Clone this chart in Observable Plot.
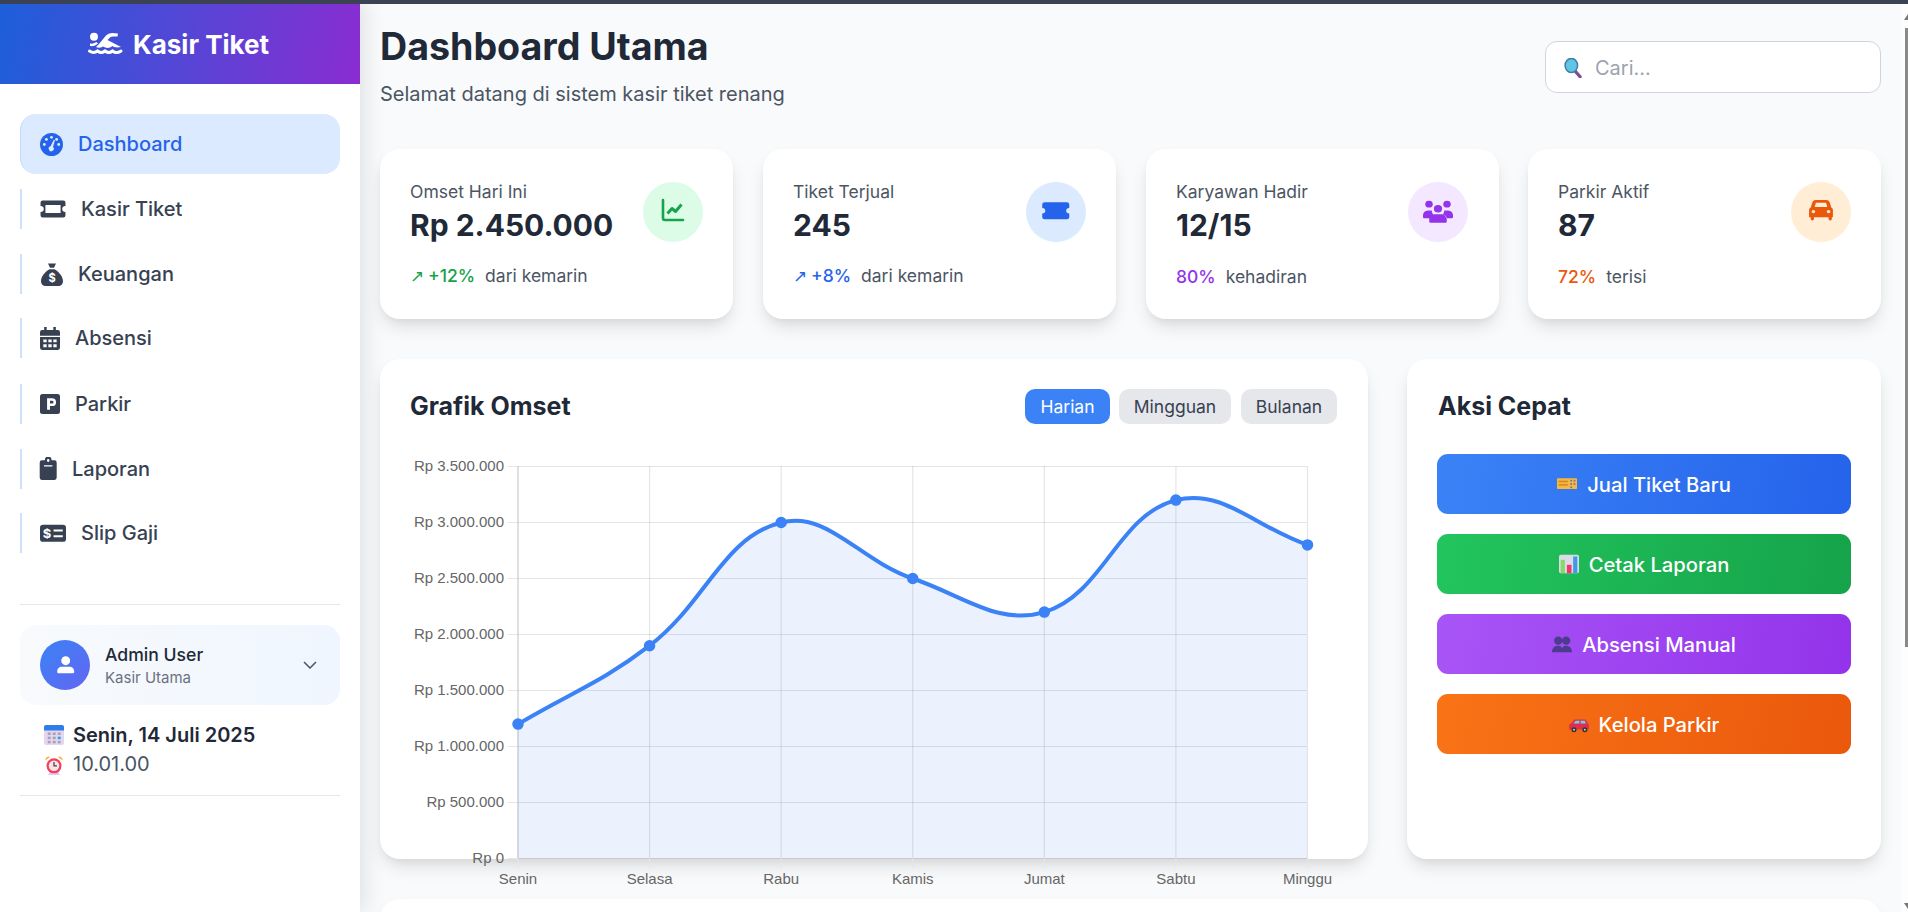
<!DOCTYPE html>
<html lang="id">
<head>
<meta charset="utf-8">
<title>Dashboard Utama</title>
<script src="https://cdn.jsdelivr.net/npm/d3@7"></script>
<script src="https://cdn.jsdelivr.net/npm/@observablehq/plot@0.6"></script>
<style>
html,body{margin:0;padding:0;width:1908px;height:912px;overflow:hidden;background:#f9fafb;font-family:Inter,"Noto Sans",sans-serif;color:#1f2937;-webkit-font-smoothing:antialiased}
.a{position:absolute}
.t{position:absolute;white-space:nowrap;line-height:1.2;transform:translateY(-50%)}
.c{position:absolute;background:#fff;border-radius:20px;box-shadow:0 10px 18px -3px rgba(0,0,0,.12),0 4px 7px -2px rgba(0,0,0,.05)}
svg.i{position:absolute;display:block}
.b{position:absolute;display:flex;align-items:center;justify-content:center}
</style>
</head>
<body>
<div id="page" class="a" style="left:0;top:0;width:1908px;height:912px;overflow:hidden"></div>
<script>
// ---------- chart data ----------
const days = ["Senin", "Selasa", "Rabu", "Kamis", "Jumat", "Sabtu", "Minggu"];
const omset = [1200000, 1900000, 3000000, 2500000, 2200000, 3200000, 2800000];
const yTicks = [0, 500000, 1000000, 1500000, 2000000, 2500000, 3000000, 3500000];

// ---------- page text ----------
const navLabels = ["Dashboard", "Kasir Tiket", "Keuangan", "Absensi", "Parkir", "Laporan", "Slip Gaji"];
const navTextX = [78, 81, 78, 75, 75, 72, 81];
const navY = [144, 208.5, 274, 338, 404, 468.5, 533];
const navIcon = ["gauge", "ticket", "bag", "cal", "park", "clip", "slip"];
const navIconX = [40, 40, 40, 40, 40, 38.3, 40];
const navIconW = [23, 26, 24, 20, 20, 20.4, 26];
const navIconH = [23, 24, 25, 23, 20, 23, 22.7];
const statLabels = ["Omset Hari Ini", "Tiket Terjual", "Karyawan Hadir", "Parkir Aktif"];
const statValues = ["Rp 2.450.000", "245", "12/15", "87"];
const statHighlight = ["+12%", "+8%", "80%", "72%"];
const statNote = ["dari kemarin", "dari kemarin", "kehadiran", "terisi"];
const statArrow = [true, true, false, false];
const statColor = ["#16a34a", "#2563eb", "#9333ea", "#ea580c"];
const statTint = ["#dcfce7", "#dbeafe", "#f3e8ff", "#ffedd5"];
const statIcon = ["chart", "ticket2", "users", "car"];
const statLeft = [380, 763, 1146, 1528];
const statCx = [673, 1056, 1438, 1821];
const statIconW = [24, 29.5, 30, 26];
const statIconH = [24, 25.5, 27, 23];
const statIconY = [210, 210.5, 211, 209.5];
const periodLabels = ["Harian", "Mingguan", "Bulanan"];
const actionLabels = ["Jual Tiket Baru", "Cetak Laporan", "Absensi Manual", "Kelola Parkir"];
const actionIcon = ["eTicket", "eChart", "eBusts", "eCar"];
const actionGrad = [["#3b82f6", "#2563eb"], ["#22c55e", "#16a34a"], ["#a855f7", "#9333ea"], ["#f97316", "#ea580c"]];

// ---------- icons ----------
const icons = {
  gauge: `<circle cx="12" cy="12" r="12" fill="currentColor"/><g fill="#dbeafe"><circle cx="12" cy="4.5" r="1.5"/><circle cx="6.7" cy="6.7" r="1.5"/><circle cx="4.5" cy="12" r="1.5"/><circle cx="19.5" cy="12" r="1.5"/><circle cx="17.3" cy="6.7" r="1.5"/></g><path d="M15.6 7.2 13.6 14.6a2.6 2.6 0 1 1-2.6-.7l3.4-6.9z" fill="#dbeafe"/>`,
  ticket: `<path fill-rule="evenodd" d="M2.5 3.5h19a2 2 0 0 1 2 2V9a3 3 0 0 0 0 6v3.5a2 2 0 0 1-2 2h-19a2 2 0 0 1-2-2V15a3 3 0 0 0 0-6V5.500a2 2 0 0 1 2-2zM5 8v8h14V8z" fill="currentColor"/>`,
  bag: `<path d="M8 1.500h8l-2 4h-4zM9.500 7h5C19 9.500 23 14 23 18.500 23 21.500 21 23 18.500 23h-13C3 23 1 21.500 1 18.500 1 14 5 9.500 9.500 7z" fill="currentColor"/><text x="12" y="19.500" text-anchor="middle" font-size="11" font-weight="700" fill="#fff" font-family="Inter">$</text>`,
  cal: `<path fill-rule="evenodd" d="M5 0h3v3h8V0h3v3h2.500A2.500 2.500 0 0 1 24 5.500V9H0V5.500A2.500 2.500 0 0 1 2.500 3H5zM0 10.500h24V21.500a2.500 2.500 0 0 1-2.500 2.500h-19A2.500 2.500 0 0 1 0 21.500zM4 13v3h4v-3zm6 0v3h4v-3zm6 0v3h4v-3zM4 18v3h4v-3zm6 0v3h4v-3zm6 0v3h4v-3z" fill="currentColor"/>`,
  park: `<path fill-rule="evenodd" d="M3 0h18a3 3 0 0 1 3 3v18a3 3 0 0 1-3 3H3a3 3 0 0 1-3-3V3a3 3 0 0 1 3-3zm5.500 5v14h3.500v-4.500h2.500a4.750 4.750 0 0 0 0-9.500zm3.500 3h2.500a1.750 1.750 0 0 1 0 3.500H12z" fill="currentColor"/>`,
  clip: `<path fill-rule="evenodd" d="M8 3.500a4 4 0 0 1 8 0h3.500A2.500 2.500 0 0 1 22 6v15.500a2.500 2.500 0 0 1-2.500 2.500h-15A2.500 2.500 0 0 1 2 21.500V6a2.500 2.500 0 0 1 2.500-2.500zM12 2.200a1.500 1.500 0 1 0 0 3 1.500 1.500 0 0 0 0-3zM7 8.500V10h10V8.500z" fill="currentColor"/>`,
  slip: `<path fill-rule="evenodd" d="M3 3h18a3 3 0 0 1 3 3v12a3 3 0 0 1-3 3H3a3 3 0 0 1-3-3V6a3 3 0 0 1 3-3zm9.500 5v2H21V8zm0 6v2H21v-2z" fill="currentColor"/><text x="6.500" y="16.500" text-anchor="middle" font-size="12" font-weight="700" fill="#fff" font-family="Inter">$</text>`,
  chart: `<path d="M2 2v18a2 2 0 0 0 2 2h18" fill="none" stroke="currentColor" stroke-width="2.600" stroke-linecap="round"/><path d="M6.500 15.500l4.500-5 3.500 3 6-7" fill="none" stroke="currentColor" stroke-width="3" stroke-linejoin="round"/>`,
  ticket2: `<path d="M3 4h18a2 2 0 0 1 2 2v3.500a2.500 2.500 0 0 0 0 5V18a2 2 0 0 1-2 2H3a2 2 0 0 1-2-2v-3.500a2.500 2.500 0 0 0 0-5V6a2 2 0 0 1 2-2z" fill="currentColor"/>`,
  users: `<g fill="currentColor"><circle cx="4.800" cy="5.500" r="3"/><circle cx="19.200" cy="5.500" r="3"/><circle cx="12" cy="9.500" r="3.300"/><path d="M0 15.500a4.500 4.500 0 0 1 4-4.500h3a5.500 5.500 0 0 0 1 3.500c-1.500 1-2.500 2.500-2.500 3.500H1a1 1 0 0 1-1-1zM24 15.500a4.500 4.500 0 0 0-4-4.500h-3a5.500 5.500 0 0 1-1 3.500c1.500 1 2.500 2.500 2.500 3.500H23a1 1 0 0 0 1-1zM9 14.500h6a4 4 0 0 1 4 4V21a1 1 0 0 1-1 1H6a1 1 0 0 1-1-1v-2.500a4 4 0 0 1 4-4z"/></g>`,
  car: `<path fill-rule="evenodd" d="M7 2h10c1.500 0 2.500 1 3 2.500L21.500 10c1 .5 1.500 1.500 1.500 2.500V20h-1v2a1.500 1.500 0 0 1-3 0v-2H5.500v2a1.500 1.500 0 0 1-3 0v-2H1v-7.500c0-1 .5-2 1.500-2.500L4 4.500C4.500 3 5.500 2 7 2zm.3 3L6.200 9.500h11.600L16.700 5zM5 12.500a1.700 1.700 0 1 0 0 3.400 1.700 1.700 0 0 0 0-3.400zm14 0a1.700 1.700 0 1 0 0 3.400 1.700 1.700 0 0 0 0-3.400z" fill="currentColor"/>`,
  swim: `<svg viewBox="0 0 35 22" width="24" height="24" preserveAspectRatio="none"><g fill="currentColor"><circle cx="6" cy="4.800" r="4"/><path d="M11 12 18 3.500Q20 1 24 1L30 1.500 29.500 4.500 25 4.500Q23 4.500 22 5.500L19.500 8 33 15C30 15.500 27 16 24.500 14 21.500 16.500 18 16.500 15 14.500 13 16 10 16 8 15z"/><path d="M2 11.500c3 .5 5-.5 6.500-1.500l1.500 1.500c-2 2-5 3-8 2.500z"/></g><path d="M1.500 19c3 2 5.500 2 8 0 2.500 2 5 2 7.500 0 2.500 2 5 2 7.500 0 2.500 2 5.500 2 8.500 0" fill="none" stroke="currentColor" stroke-width="3" stroke-linecap="round"/></svg>`,
  user: `<circle cx="12" cy="7" r="5.500" fill="#fff"/><path d="M7 14.500h10a5.500 5.500 0 0 1 5.500 5.500v1a1.500 1.500 0 0 1-1.500 1.500H3A1.500 1.500 0 0 1 1.500 21v-1A5.500 5.500 0 0 1 7 14.500z" fill="#fff"/>`,
  eSearch: `<path d="M14 15l6.500 7.500" stroke="#7d4e8f" stroke-width="4" stroke-linecap="round"/><ellipse cx="10" cy="9" rx="7.500" ry="8.500" fill="#62c5e6" stroke="#3f7fa5" stroke-width="1.800"/>`,
  eCal: `<rect x="0" y="0" width="24" height="24" rx="2.500" fill="#e3d6ee"/><path d="M0 6.500V2.500A2.500 2.500 0 0 1 2.500 0h19A2.500 2.500 0 0 1 24 2.500V6.500z" fill="#2f7de8"/><g fill="#a7a0b8"><rect x="4.500" y="9" width="3.500" height="3"/><rect x="10.500" y="9" width="3.500" height="3"/><rect x="16.500" y="9" width="3.500" height="3"/><rect x="4.500" y="14" width="3.500" height="3"/><rect x="10.500" y="14" width="3.500" height="3"/><rect x="4.500" y="19" width="3.500" height="3"/><rect x="10.500" y="19" width="3.500" height="3"/><rect x="16.500" y="19" width="3.500" height="3"/></g><rect x="16.500" y="14" width="3.500" height="3" fill="#2f9fe8"/>`,
  eClock: `<path d="M5 24l2-4h10l2 4z" fill="#e0c9ec"/><path d="M1.500 6.500a4 4 0 0 1 6-4zM22.500 6.500a4 4 0 0 0-6-4z" fill="#f6b73c"/><circle cx="12" cy="13" r="9" fill="#f3405f"/><circle cx="12" cy="13" r="6.300" fill="#fbe3e8"/><path d="M12 8.500V13h3.500" fill="none" stroke="#444" stroke-width="1.500"/>`,
  eTicket: `<rect x="0" y="5" width="24" height="13" rx="1" fill="#f5b83d"/><rect x="2" y="8" width="11" height="2" fill="#d9882a"/><rect x="2" y="12" width="11" height="2" fill="#d9882a"/><g fill="#6b6fb5"><rect x="16" y="7" width="2" height="2"/><rect x="20" y="7" width="2" height="2"/><rect x="16" y="11" width="2" height="2"/><rect x="20" y="11" width="2" height="2"/><rect x="16" y="15" width="2" height="2"/></g>`,
  eChart: `<rect x="0" y="1" width="24" height="22" rx="2" fill="#dadbe4"/><rect x="2" y="7" width="5" height="16" fill="#86d86a"/><rect x="9.500" y="13" width="5.500" height="10" fill="#f0386b"/><rect x="17" y="3" width="5" height="20" fill="#3b9be8"/>`,
  eBusts: `<g fill="#4c3b8e"><circle cx="7.500" cy="8" r="5"/><circle cx="17" cy="8" r="5"/><path d="M0 22c0-5 3-8 7-8s6 2 5.500 8zM11 22c0-5 2-8 6-8s7 3 7 8z"/></g>`,
  eCar: `<path d="M0 16c0-3 1-4.500 3-5l3.500-4.500h12c1.500 0 2 .5 2.500 1.500l1.500 3c.7.500 1.500 1.500 1.500 3v3.500a1 1 0 0 1-1 1H1a1 1 0 0 1-1-1z" fill="#d8314b"/><path d="M8 8h4.500v3.500H5.500zM14 8h5l1.200 3.500H14z" fill="#7ec8f0"/><circle cx="6" cy="19" r="3" fill="#333"/><circle cx="19" cy="19" r="3" fill="#333"/><circle cx="6" cy="19" r="1.200" fill="#ccc"/><circle cx="19" cy="19" r="1.200" fill="#ccc"/>`
};

// ---------- page helpers ----------
const page = document.getElementById("page");
function box(cls, l, t, w, h, css = "") {
  const e = document.createElement("div");
  e.className = cls;
  e.style.cssText = `left:${l}px;top:${t}px;width:${w}px;height:${h}px;${css}`;
  page.appendChild(e);
  return e;
}
function text(s, l, y, css = "") {
  const e = document.createElement("div");
  e.className = "t";
  e.textContent = s;
  e.style.cssText = `left:${l}px;top:${y}px;${css}`;
  page.appendChild(e);
  return e;
}
function icon(name, l, cy, w, color = "#374151", h = w, parent = page) {
  const holder = document.createElement("div");
  holder.innerHTML = `<svg class="i" viewBox="0 0 24 24" preserveAspectRatio="none" style="left:${l}px;top:${cy - h / 2}px;width:${w}px;height:${h}px;color:${color}">${icons[name]}</svg>`;
  parent.appendChild(holder.firstChild);
}

// ---------- sidebar ----------
box("a", 0, 0, 360, 912, "background:#fff;box-shadow:4px 0 22px rgba(0,0,0,.11);z-index:0");
box("a", 0, 4, 360, 80, "background:linear-gradient(100deg,#1d5fd9,#8a2dd2)");
box("a", 0, 0, 1908, 4, "background:#3a4254;z-index:9");
icon("swim", 88, 43, 35, "#fff", 22);
text("Kasir Tiket", 133, 44.5, "font-size:26px;font-weight:700;color:#fff");
navLabels.forEach((label, i) => {
  const y = navY[i], on = i === 0;
  if (on) box("a", 20, 114, 320, 60, "background:#dbeafe;border-radius:16px;border-left:1.500px solid #bfdbfe;box-sizing:border-box");
  else box("a", 20, y - 20, 1.5, 40, "background:#cfe0fd");
  icon(navIcon[i], navIconX[i], y, navIconW[i], on ? "#2563eb" : "#374151", navIconH[i]);
  text(label, navTextX[i], y, `font-size:20px;font-weight:500;color:${on ? "#2563eb" : "#374151"}`);
});
box("a", 20, 604, 320, 1.2, "background:#e5e7eb");
box("a", 20, 625, 320, 80, "border-radius:16px;background:linear-gradient(90deg,#f8fafc,#eff6ff)");
box("a", 40, 640, 50, 50, "border-radius:50%;background:linear-gradient(135deg,#3b82f6,#6366f1)");
icon("user", 55.800, 664.5, 19.400, "#fff", 19.500);
text("Admin User", 105, 655, "font-size:17.600px;font-weight:500;color:#1f2937");
text("Kasir Utama", 105, 677.5, "font-size:15px;color:#6b7280");
const chev = document.createElement("div");
chev.innerHTML = `<svg class="i" viewBox="0 0 14 8" style="left:303px;top:661px;width:14px;height:8px"><path d="M1 1l6 6 6-6" fill="none" stroke="#4b5563" stroke-width="1.500"/></svg>`;
page.appendChild(chev.firstChild);
icon("eCal", 44, 735, 20);
text("Senin, 14 Juli 2025", 73, 734.5, "font-size:20px;font-weight:600;color:#1f2937");
icon("eClock", 44, 764.5, 20);
text("10.01.00", 73, 764, "font-size:20px;color:#4b5563");
box("a", 20, 795, 320, 1.2, "background:#e5e7eb");

// ---------- header ----------
text("Dashboard Utama", 380, 47, "font-size:37.600px;font-weight:700;color:#1f2937");
text("Selamat datang di sistem kasir tiket renang", 380, 94, "font-size:20px;color:#4b5563");
box("a", 1545, 41, 336, 52, "background:#fff;border:1.500px solid #d1d5db;border-radius:12px;box-sizing:border-box");
icon("eSearch", 1563, 68, 20);
text("Cari...", 1595, 67.5, "font-size:20px;color:#9ca3af");
box("a", 1901, 4, 7, 908, "background:#fdfdfd");
box("a", 1905, 28, 3, 619, "background:#8a8a8a");
box("a", 1904, 14, 4, 6, "background:#777;clip-path:polygon(100% 0,100% 100%,0 100%)");
box("a", 1904, 903, 4, 6, "background:#777;clip-path:polygon(0 0,100% 0,100% 100%)");

// ---------- stat cards ----------
statLabels.forEach((label, i) => {
  const l = statLeft[i];
  box("c", l, 149, 353, 170);
  text(label, l + 30, 191, "font-size:17.500px;color:#4b5563");
  text(statValues[i], l + 30, 224.5, "font-size:30px;font-weight:700;color:#1f2937");
  const cx = statCx[i];
  box("a", cx - 30, 182, 60, 60, `border-radius:50%;background:${statTint[i]}`);
  icon(statIcon[i], cx - statIconW[i] / 2, statIconY[i], statIconW[i], statColor[i], statIconH[i]);
  const hi = document.createElement("div");
  hi.className = "t";
  hi.style.cssText = `left:${l + 30}px;top:276px;font-size:17.500px;color:#4b5563`;
  const arrow = statArrow[i] ? `<span style="font-family:'DejaVu Sans ExtraLight','Liberation Sans',sans-serif;font-size:16.500px;font-weight:300;margin-right:4px">↗</span>` : "";
  hi.innerHTML = `<span style="color:${statColor[i]};font-weight:500">${arrow}${statHighlight[i]}</span><span style="margin-left:10px">${statNote[i]}</span>`;
  page.appendChild(hi);
});

// ---------- chart card ----------
box("c", 380, 359, 988, 500);
text("Grafik Omset", 410, 406, "font-size:25px;font-weight:700;color:#1f2937");
[[1025, 85], [1119, 112], [1241, 96]].forEach(([l, w], i) => {
  const b = box("b", l, 389, w, 35, `border-radius:10px;font-size:17.500px;background:${i === 0 ? "#3b82f6" : "#e5e7eb"};color:${i === 0 ? "#fff" : "#374151"}`);
  b.textContent = periodLabels[i];
});

// Bezier spline with tension 0.4 (same construction as the source chart's line)
function splineCurve(context) {
  const t = 0.4;
  let pts = [], line = NaN;
  return {
    areaStart() { line = 0; },
    areaEnd() { line = NaN; },
    lineStart() { pts = []; },
    point(x, y) { pts.push([+x, +y]); },
    lineEnd() {
      const n = pts.length;
      if (!n) return;
      if (line) context.lineTo(pts[0][0], pts[0][1]); else context.moveTo(pts[0][0], pts[0][1]);
      const cps = pts.map((p, i) => {
        const a = pts[i - 1] || p, c = pts[i + 1] || p;
        const d1 = Math.hypot(p[0] - a[0], p[1] - a[1]), d2 = Math.hypot(c[0] - p[0], c[1] - p[1]);
        const s = d1 + d2 || 1;
        const dx = c[0] - a[0], dy = c[1] - a[1];
        return {
          px: p[0] - t * (d1 / s) * dx, py: p[1] - t * (d1 / s) * dy,
          nx: p[0] + t * (d2 / s) * dx, ny: p[1] + t * (d2 / s) * dy
        };
      });
      for (let i = 1; i < n; i++) {
        context.bezierCurveTo(cps[i - 1].nx, cps[i - 1].ny, cps[i].px, cps[i].py, pts[i][0], pts[i][1]);
      }
      if (line === 0) line = 1;
      else if (line === 1) { context.closePath(); line = NaN; }
    }
  };
}

const rows = days.map((day, i) => ({day, value: omset[i]}));
const chart = Plot.plot({
  width: 950,
  height: 450,
  marginLeft: 117.5,
  marginRight: 43,
  marginTop: 16,
  marginBottom: 42,
  style: {background: "transparent", overflow: "visible", fontFamily: "'Liberation Sans',Arial,sans-serif", fontSize: "15px"},
  x: {type: "point", domain: days, padding: 0, round: false, label: null},
  y: {domain: [0, 3500000], label: null},
  marks: [
    Plot.gridY(yTicks, {stroke: "#000", strokeOpacity: 0.1, strokeWidth: 1.2}),
    Plot.gridX(days, {stroke: "#000", strokeOpacity: 0.1, strokeWidth: 1.2}),
    Plot.ruleX([days[0]], {stroke: "#000", strokeOpacity: 0.12, strokeWidth: 1.2}),
    Plot.ruleY([0], {stroke: "#000", strokeOpacity: 0.12, strokeWidth: 1.2}),
    Plot.axisY(yTicks, {tickSize: 10, tickPadding: 4, stroke: "#e5e5e5", fill: "#666", tickFormat: d => "Rp " + d.toLocaleString("id-ID"), label: null}),
    Plot.axisX(days, {tickSize: 10, tickPadding: 5, stroke: "#e5e5e5", fill: "#666", label: null}),
    Plot.areaY(rows, {x: "day", y: "value", fill: "#3b82f6", fillOpacity: 0.1, curve: splineCurve}),
    Plot.line(rows, {x: "day", y: "value", stroke: "#3b82f6", strokeWidth: 4, curve: splineCurve}),
    Plot.dot(rows, {x: "day", y: "value", r: 5, fill: "#3b82f6", stroke: "#3b82f6"})
  ]
});
const holder = box("a", 400, 450, 950, 450, "z-index:2");
holder.appendChild(chart);

// ---------- quick actions ----------
box("c", 1407, 359, 474, 500);
text("Aksi Cepat", 1438, 406, "font-size:25px;font-weight:700;color:#1f2937");
actionLabels.forEach((label, i) => {
  const t = 454 + i * 80;
  const b = box("b", 1437, t, 414, 60, `border-radius:11px;background:linear-gradient(100deg,${actionGrad[i][0]},${actionGrad[i][1]});color:#fff;font-size:20.200px;font-weight:500;gap:10px`);
  const ic = document.createElement("div");
  ic.innerHTML = `<svg viewBox="0 0 24 24" style="width:20px;height:20px;display:block">${icons[actionIcon[i]]}</svg>`;
  b.appendChild(ic.firstChild);
  const s = document.createElement("span");
  s.textContent = label;
  b.appendChild(s);
});

// ---------- card below the fold ----------
box("c", 380, 899, 1501, 200);
</script>
</body>
</html>
